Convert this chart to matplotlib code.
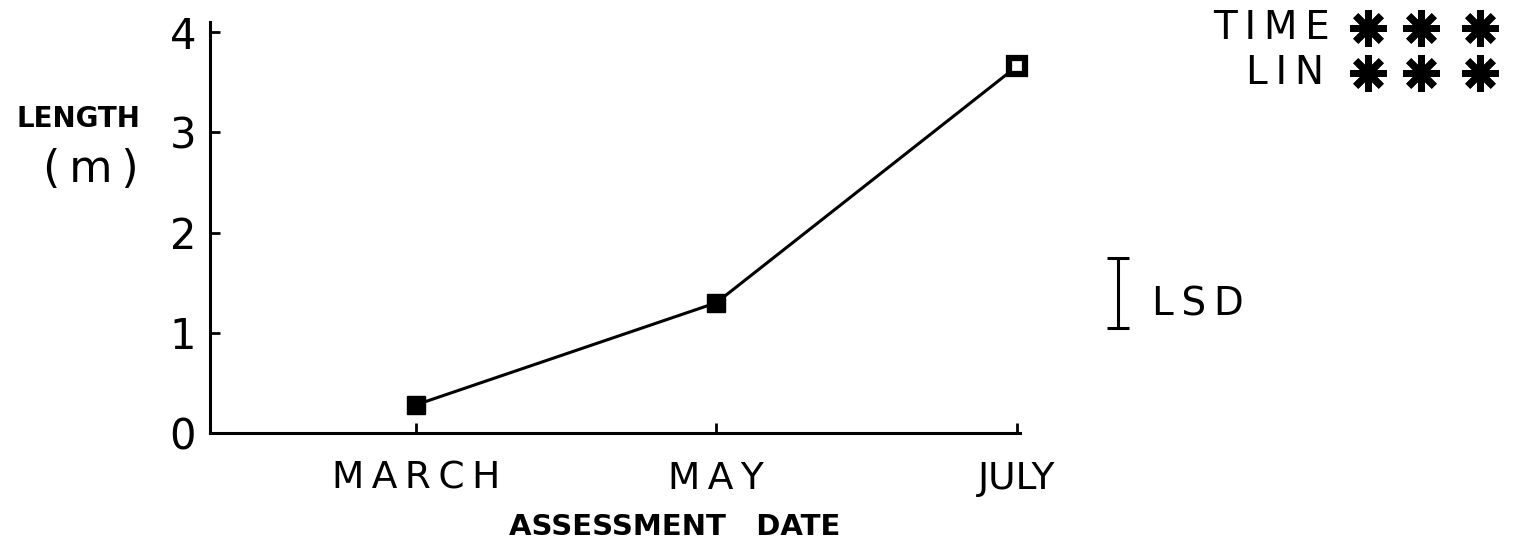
import matplotlib.pyplot as plt

# Data
months = ["MARCH", "MAY", "JULY"]
x_pos = [1, 2, 3]
length_m = [0.28, 1.30, 3.66]
y_ticks = [0, 1, 2, 3, 4]
lsd = 0.70
lsd_center = 1.40

TS = "\u2009"  # thin space, for the spaced-out lettering


def spaced(s):
    return TS.join(s)


fig = plt.figure(figsize=(15.13, 5.53), dpi=100)
fig.patch.set_facecolor("white")
ax = fig.add_axes([0.1388, 0.217, 0.5354, 0.743])

# line + markers
ax.plot(x_pos, length_m, color="black", linewidth=2.2, zorder=3)
ax.plot(x_pos[:2], length_m[:2], linestyle="none", marker="s", markersize=13,
        markerfacecolor="black", markeredgecolor="black", zorder=4)
ax.plot(x_pos[2:], length_m[2:], linestyle="none", marker="s", markersize=11,
        markerfacecolor="white", markeredgecolor="black", markeredgewidth=4.5,
        zorder=4, clip_on=False)

ax.set_xlim(0.316, 3.01)
ax.set_ylim(0, 4.1)
ax.set_xticks(x_pos)
ax.set_xticklabels([spaced(m) if m != "JULY" else m for m in months])
ax.set_yticks(y_ticks)
ax.set_yticklabels([str(t) for t in y_ticks])

ax.spines["top"].set_visible(False)
ax.spines["right"].set_visible(False)
ax.spines["left"].set_linewidth(2.2)
ax.spines["bottom"].set_linewidth(2.2)
ax.tick_params(axis="both", direction="in", length=7, width=2, color="black")
ax.tick_params(axis="y", labelsize=30, pad=10)
ax.tick_params(axis="x", labelsize=27, pad=20)

# LSD bar
ax.errorbar([3.335], [lsd_center], yerr=[lsd / 2], color="black", linewidth=2.2,
            capsize=8, capthick=2.2, clip_on=False)
ax.text(3.45, 1.28, spaced("LSD"), fontsize=28, va="center", ha="left", clip_on=False)

# axis labels
fig.text(0.052, 0.785, "LENGTH", fontsize=20, fontweight="bold", ha="center", va="center")
fig.text(0.060, 0.693, "(\u2009m\u2009)", fontsize=32, ha="center", va="center")
fig.text(0.446, 0.047, "ASSESSMENT   DATE", fontsize=21, fontweight="bold",
         ha="center", va="center")

# significance notes
fig.text(0.879, 0.949, spaced("TIME"), fontsize=28, ha="right", va="center")
fig.text(0.875, 0.868, spaced("LIN"), fontsize=28, ha="right", va="center")
star_x = [0.904, 0.939, 0.978]
for y in [0.949, 0.868]:
    fig.lines.append(plt.Line2D(star_x, [y] * len(star_x), transform=fig.transFigure,
                                linestyle="none", marker=(8, 2, 0), markersize=26,
                                markeredgewidth=5, color="black"))

plt.savefig("out.png", dpi=100)
